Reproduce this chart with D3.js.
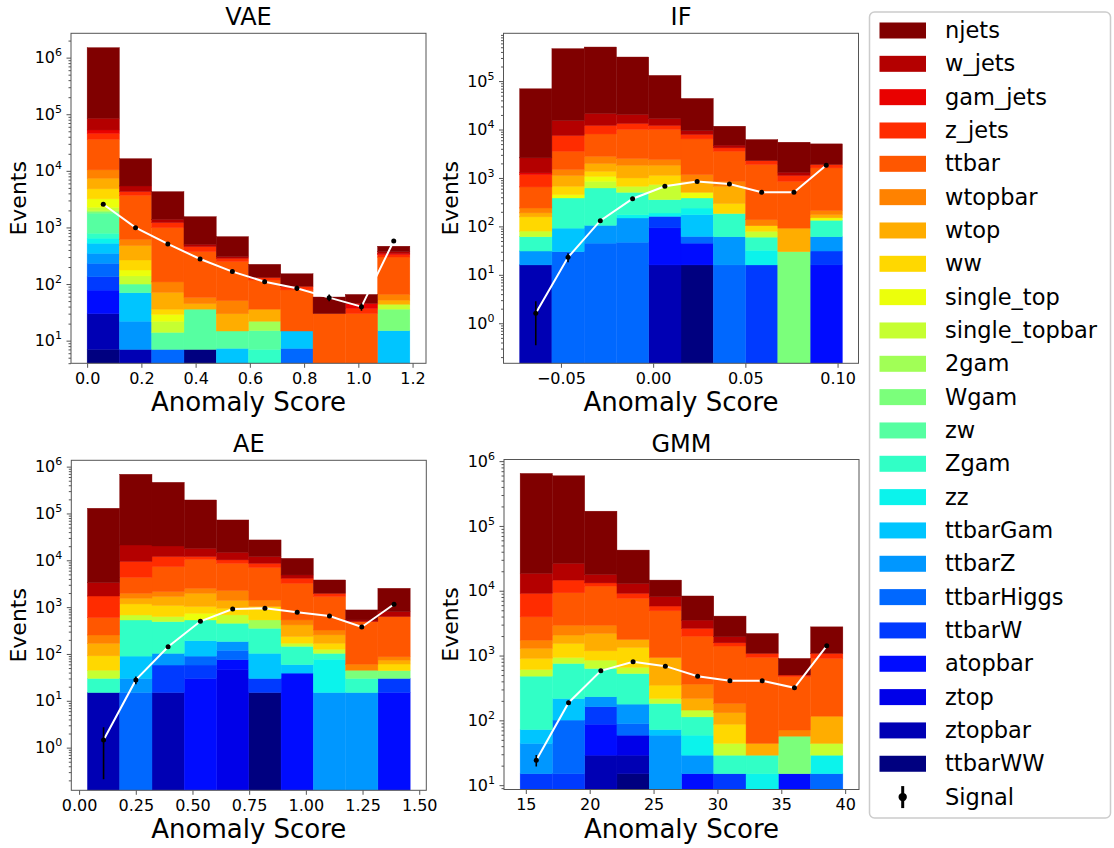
<!DOCTYPE html>
<html><head><meta charset="utf-8">
<script src="https://cdnjs.cloudflare.com/ajax/libs/d3/7.8.5/d3.min.js"></script>
<style>
body{margin:0;background:#fff;}
text{font-family:"DejaVu Sans",sans-serif;fill:#000;}
</style>
</head><body>
<svg id="chart" width="1114" height="848"></svg>
<script>
// ---------------- DATA ----------------
const categories = ["njets","w_jets","gam_jets","z_jets","ttbar","wtopbar","wtop","ww","single_top","single_topbar","2gam","Wgam","zw","Zgam","zz","ttbarGam","ttbarZ","ttbarHiggs","ttbarW","atopbar","ztop","ztopbar","ttbarWW"];

// bin ranges (10 equal bins each)
const vaeRange = [0.0, 1.19];
const ifRange  = [-0.0724, 0.1026];
const aeRange  = [0.0368, 1.460];
const gmmRange = [14.556, 39.82];

// y limits
const vaeYLim = [3.98, 2.69e6];
const ifYLim  = [0.149, 9.7e5];
const aeYLim  = [0.1227, 1.365e6];
const gmmYLim = [8.57, 1.06e6];

// x tick values / labels
const vaeXTicks = [0,0.2,0.4,0.6,0.8,1.0,1.2];
const vaeXTickLabels = ["0.0","0.2","0.4","0.6","0.8","1.0","1.2"];
const ifXTicks = [-0.05,0,0.05,0.10];
const ifXTickLabels = ["\u22120.05","0.00","0.05","0.10"];
const aeXTicks = [0,0.25,0.5,0.75,1.0,1.25,1.5];
const aeXTickLabels = ["0.00","0.25","0.50","0.75","1.00","1.25","1.50"];
const gmmXTicks = [15,20,25,30,35,40];
const gmmXTickLabels = ["15","20","25","30","35","40"];

// stacked background counts: rows follow `categories`, columns are the 10 bins
const vaeCounts = [
 [1415000,11000,2900,1046,382,93,61,29,20,91],
 [32000,1100,170,46,20,0,0,0,0,30],
 [6700,0,0,0,0,0,0,0,8.5,15],
 [10000,600,230,85,36,12,12,0,7,30],
 [25600,3084,880,315,199,82,64,30,30,234],
 [3000,140,38,13,21,0,0,0,0,14],
 [2600,210,35,9,15,14,0,0,0,8],
 [1600,89,7,0,0,0,0,0,0,0],
 [930,38,7,0,0,0,0,0,0,0],
 [290,39,8,0,0,0,0,0,0,8],
 [92,0,0,0,0,7,0,0,0,0],
 [100,0,0,0,0,0,0,0,0,21],
 [1000,30,7,29,7.5,8,0,0,0,0],
 [143,0,0,0,0,7,0,0,0,0],
 [120,0,0,0,0,0,0,0,0,0],
 [176,48,0,0,7.3,0,7.5,0,0,15],
 [117,15,0,0,0,0,0,0,0,0],
 [97,0,7,0,0,0,7.3,0,0,0],
 [57,0,0,0,0,0,0,0,0,0],
 [48,0,0,0,0,0,0,0,0,0],
 [0,0,0,0,0,0,0,0,0,0],
 [23,7,0,0,0,0,0,0,0,0],
 [7,0,0,7,0,0,0,0,0,0]
];
const ifCounts = [
 [66700,452000,483600,293600,114100,34300,6950,3920,4160,3160],
 [1330,7800,9300,7100,4800,1600,570,0,190,0],
 [100,0,0,0,0,0,0,0,0,0],
 [518,3930,4000,3300,2100,1500,610,390,270,280],
 [413,2080,5300,7490,7610,5230,2720,1750,760,1400],
 [50,370,820,680,560,317,180,34,0,37],
 [33,447,610,830,700,348,379,0,62,25],
 [77,221,300,327,402,0,111,24,0,0],
 [0,66,217,0,0,119,0,0,0,16],
 [19,0,232,168,372,0,0,19,0,0],
 [0,0,0,0,0,0,0,0,0,0],
 [0,0,0,0,0,0,0,0,30,0],
 [0,0,0,0,0,0,0,0,0,0],
 [30,294,516,331,167,147,123,28,0,73],
 [0,0,0,25,28,65,0,16,0,0],
 [0,62,0,0,0,112,0,0,0,0],
 [15,0,60,102,0,0,45,0,0,30],
 [0,30,45,47,0,17,16,0,0,0],
 [0,0,0,0,68,0,0,16,0,15],
 [0,0,0,0,77,29,0,0,0,16],
 [0,0,0,0,0,0,0,0,0,0],
 [16,0,0,0,16,0,0,0,0,0],
 [0,0,0,0,0,16,0,0,0,0]
];
const aeCounts = [
 [125700,664800,441800,176000,57800,15200,6140,1830,338,1720],
 [1610,11800,8200,6000,4600,3400,730,0,42,174],
 [0,0,0,0,0,0,0,0,0,0],
 [1130,5070,4700,1500,1600,1630,900,290,0,0],
 [342,2360,5160,7980,6350,5550,2700,1355,430,540],
 [86,420,460,550,870,390,116,70,15.6,13],
 [77,380,600,940,436,0,182,86,0,13],
 [46,489,453,292,263,498,65,43,0,17],
 [0,0,0,206,0,0,0,0,0,0],
 [15,149,137,0,229,0,25,23,0,0],
 [0,0,0,0,0,179,0,0,0,0],
 [0,0,0,0,0,0,0,0,15,14],
 [0,0,0,0,0,0,0,0,0,0],
 [15,441,387,339,269,250,86,26,15,0],
 [0,0,0,0,0,0,0,62,0,0],
 [0,60,0,102,0,73,20,0,0,0],
 [0,15,45,0,65,0,0,15,15,0],
 [0,15,0,32,44,0,0,0,0,0],
 [0,0,43,28,0,15,0,0,0,15],
 [0,0,0,30,29,0,39,0,0,15],
 [0,0,0,0,46,0,0,0,0,0],
 [15,0,15,0,0,0,0,0,0,0],
 [0,0,0,0,0,15,0,0,0,0]
];
const gmmCounts = [
 [627500,567600,151200,29500,6500,4780,2110,1110,402,1690],
 [9400,11800,4600,3800,2300,900,380,0,0,0],
 [0,0,0,0,0,0,0,0,0,0],
 [5140,5300,1400,1500,900,630,170,147,29,180],
 [2230,6360,8860,5830,3970,1630,1220,889,400,785],
 [440,870,750,0,0,145,51,0,14,0],
 [389,540,1010,440,584,73,44,15,0,72],
 [291,597,331,675,132,0,43,0,0,0],
 [0,0,0,0,0,0,0,0,0,0],
 [129,178,218,127,35,31,15,0,0,15],
 [0,0,0,0,0,0,0,0,0,0],
 [0,0,0,0,0,0,0,0,42,0],
 [0,0,0,0,0,0,0,0,0,0],
 [409,538,400,350,110,54,14,14,0,0],
 [0,0,0,0,0,30,0,15,0,14],
 [28,116,0,0,13,0,0,0,0,0],
 [29,0,69,89,59,14,0,0,0,0],
 [0,86,0,30,0,0,0,0,0,15],
 [15,15,75,0,0,0,15,0,0,0],
 [0,0,58,0,0,15,0,0,15,0],
 [0,0,0,30,0,0,0,0,0,0],
 [0,0,29,14,0,0,0,0,0,0],
 [0,0,0,15,0,0,0,0,0,0]
];

// signal points and errors per bin
const vaeSignal = [2565,991,511,277,166,110,84,57.5,39.9,577];
const vaeSignalErr = [51,31,23,17,13,10,9,8,6,24];
const ifSignal = [1.6,23,131,373,673,840,751,505,505,1830];
const ifSignalErr = [1.25,4.8,11,19,26,29,27,22,22,43];
const aeSignal = [1.46,27.9,143,498,914,944,776,648,377,1150];
const aeSignalErr = [1.25,5.3,12,22,30,31,28,25,19,34];
const gmmSignal = [24.3,187,581,800,686,481,407,407,318,1412];
const gmmSignalErr = [4.9,14,24,28,26,22,20,20,18,38];

// ---------------- COLOURS (matplotlib jet) ----------------
const jetSeg = {
  r: [[0,0],[0.35,0],[0.66,1],[0.89,1],[1,0.5]],
  g: [[0,0],[0.125,0],[0.375,1],[0.64,1],[0.91,0],[1,0]],
  b: [[0,0.5],[0.11,1],[0.34,1],[0.65,0],[1,0]]
};
function segInterp(seg, t){
  for(let i=1;i<seg.length;i++){
    if(t<=seg[i][0]){const [x0,y0]=seg[i-1],[x1,y1]=seg[i];return y0+(y1-y0)*(t-x0)/(x1-x0);}
  }
  return seg[seg.length-1][1];
}
function jet(t){
  return d3.rgb(255*segInterp(jetSeg.r,t),255*segInterp(jetSeg.g,t),255*segInterp(jetSeg.b,t)).formatHex();
}
const nCat = categories.length;
const color = k => jet((nCat-1-k)/(nCat-1));

// ---------------- DRAW ----------------
const svg = d3.select("#chart");
svg.append("rect").attr("width",1114).attr("height",848).attr("fill","#fff");

const W = 355, H = 330;
const panels = [
  {title:"VAE", counts:vaeCounts, signal:vaeSignal, err:vaeSignalErr, range:vaeRange, ylim:vaeYLim, xt:vaeXTicks, xl:vaeXTickLabels, x0:71, y0:33.3},
  {title:"IF",  counts:ifCounts,  signal:ifSignal,  err:ifSignalErr,  range:ifRange,  ylim:ifYLim,  xt:ifXTicks,  xl:ifXTickLabels,  x0:503.5, y0:33.3},
  {title:"AE",  counts:aeCounts,  signal:aeSignal,  err:aeSignalErr,  range:aeRange,  ylim:aeYLim,  xt:aeXTicks,  xl:aeXTickLabels,  x0:71.3, y0:460.3},
  {title:"GMM", counts:gmmCounts, signal:gmmSignal, err:gmmSignalErr, range:gmmRange, ylim:gmmYLim, xt:gmmXTicks, xl:gmmXTickLabels, x0:504, y0:459.5}
];

panels.forEach((p,pi)=>{
  const g = svg.append("g").attr("transform",`translate(${p.x0},${p.y0})`);
  const nb = p.signal.length;
  const [lo,hi] = p.range;
  const bw = (hi-lo)/nb;
  const edges = d3.range(nb+1).map(i=>lo+i*bw);
  const centers = d3.range(nb).map(i=>lo+(i+0.5)*bw);
  const pad = (hi-lo)*0.05;
  const x = d3.scaleLinear().domain([lo-pad,hi+pad]).range([0,W]);
  const y = d3.scaleLog().domain(p.ylim).range([H,0]);
  const ymin = p.ylim[0];

  const cid = "clip"+pi;
  g.append("clipPath").attr("id",cid).append("rect").attr("width",W).attr("height",H);
  const plot = g.append("g").attr("clip-path",`url(#${cid})`);

  const rows = d3.range(nb).map(b=>{const o={bin:b}; categories.forEach((c,k)=>o[c]=p.counts[k][b]); return o;});
  const keys = categories.slice().reverse(); // bottom: ttbarWW ... top: njets
  const layers = d3.stack().keys(keys)(rows);
  layers.forEach(layer=>{
    const k = categories.indexOf(layer.key);
    const col = color(k);
    plot.append("g").selectAll("rect")
      .data(layer.filter(d=>d[1]>d[0] && d[1]>ymin))
      .join("rect")
      .attr("x",d=>x(edges[d.data.bin]))
      .attr("width",d=>x(edges[d.data.bin+1])-x(edges[d.data.bin]))
      .attr("y",d=>y(d[1]))
      .attr("height",d=>y(Math.max(d[0],ymin))-y(d[1]))
      .attr("fill",col).attr("stroke",col).attr("stroke-width",0.4);
  });

  // signal line (white)
  const line = d3.line().x((d,i)=>x(centers[i])).y(d=>y(d));
  plot.append("path").datum(p.signal).attr("d",line)
    .attr("fill","none").attr("stroke","#fff").attr("stroke-width",2);
  // error bars
  plot.append("g").selectAll("line").data(p.signal).join("line")
    .attr("x1",(d,i)=>x(centers[i])).attr("x2",(d,i)=>x(centers[i]))
    .attr("y1",(d,i)=>y(Math.max(d-p.err[i],ymin*0.5)))
    .attr("y2",(d,i)=>y(d+p.err[i]))
    .attr("stroke","#000").attr("stroke-width",1.6);
  plot.append("g").selectAll("circle").data(p.signal).join("circle")
    .attr("cx",(d,i)=>x(centers[i])).attr("cy",d=>y(d)).attr("r",2.5).attr("fill","#000");

  // frame
  g.append("rect").attr("width",W).attr("height",H).attr("fill","none").attr("stroke","#555").attr("stroke-width",1);

  // y axis: majors and minors
  const lmin = Math.floor(Math.log10(p.ylim[0])), lmax = Math.ceil(Math.log10(p.ylim[1]));
  const majors = d3.range(lmin,lmax+1).map(e=>Math.pow(10,e)).filter(v=>v>=p.ylim[0]&&v<=p.ylim[1]);
  const minors = [];
  d3.range(lmin,lmax+1).forEach(e=>{for(let m=2;m<=9;m++){const v=m*Math.pow(10,e); if(v>=p.ylim[0]&&v<=p.ylim[1]) minors.push(v);}});
  const yMinorAx = g.append("g").call(d3.axisLeft(y).tickValues(minors).tickSize(2.5).tickFormat(()=>""));
  const yAx = g.append("g").call(d3.axisLeft(y).tickValues(majors).tickSize(4.5).tickPadding(4.5).tickFormat(()=>""));
  [yMinorAx,yAx].forEach(a=>{a.select(".domain").remove(); a.selectAll("line").attr("stroke","#555");});
  yAx.selectAll(".tick text").each(function(d){
    const t = d3.select(this).attr("font-size",16).attr("font-family","DejaVu Sans").attr("fill","#000");
    t.text(null);
    t.append("tspan").text("10");
    t.append("tspan").attr("dy",-7).attr("font-size",11).text(String(Math.round(Math.log10(d))));
  });

  // x axis
  const xAx = g.append("g").attr("transform",`translate(0,${H})`)
    .call(d3.axisBottom(x).tickValues(p.xt).tickSize(4.5).tickPadding(5).tickFormat((d,i)=>p.xl[i]));
  xAx.select(".domain").remove();
  xAx.selectAll("line").attr("stroke","#555");
  xAx.selectAll("text").attr("font-size",16).attr("font-family","DejaVu Sans").attr("fill","#000");

  // titles and labels
  g.append("text").attr("x",W/2).attr("y",-8).attr("text-anchor","middle").attr("font-size",24).text(p.title);
  g.append("text").attr("x",W/2).attr("y",H+48).attr("text-anchor","middle").attr("font-size",26).text("Anomaly Score");
  g.append("text").attr("transform",`translate(${-p.x0+26+(pi%2?432:0)},${H/2}) rotate(-90)`)
    .attr("text-anchor","middle").attr("font-size",22).text("Events");
});

// ---------------- LEGEND ----------------
const lg = svg.append("g");
lg.append("rect").attr("x",869.5).attr("y",12).attr("width",241).attr("height",806).attr("rx",5)
  .attr("fill","#fff").attr("stroke","#cccccc").attr("stroke-width",1.5);
const rowH = 33.33, firstY = 30.5;
categories.forEach((c,k)=>{
  const cy = firstY + k*rowH;
  lg.append("rect").attr("x",879.5).attr("y",cy-8).attr("width",46.5).attr("height",16).attr("fill",color(k));
  lg.append("text").attr("x",945).attr("y",cy+7.5).attr("font-size",22.5).text(c);
});
{
  const cy = firstY + nCat*rowH;
  lg.append("line").attr("x1",902.7).attr("x2",902.7).attr("y1",cy-11).attr("y2",cy+11).attr("stroke","#000").attr("stroke-width",3);
  lg.append("circle").attr("cx",902.7).attr("cy",cy).attr("r",4.2).attr("fill","#000");
  lg.append("text").attr("x",945).attr("y",cy+7.5).attr("font-size",22.5).text("Signal");
}
</script>
</body></html>
